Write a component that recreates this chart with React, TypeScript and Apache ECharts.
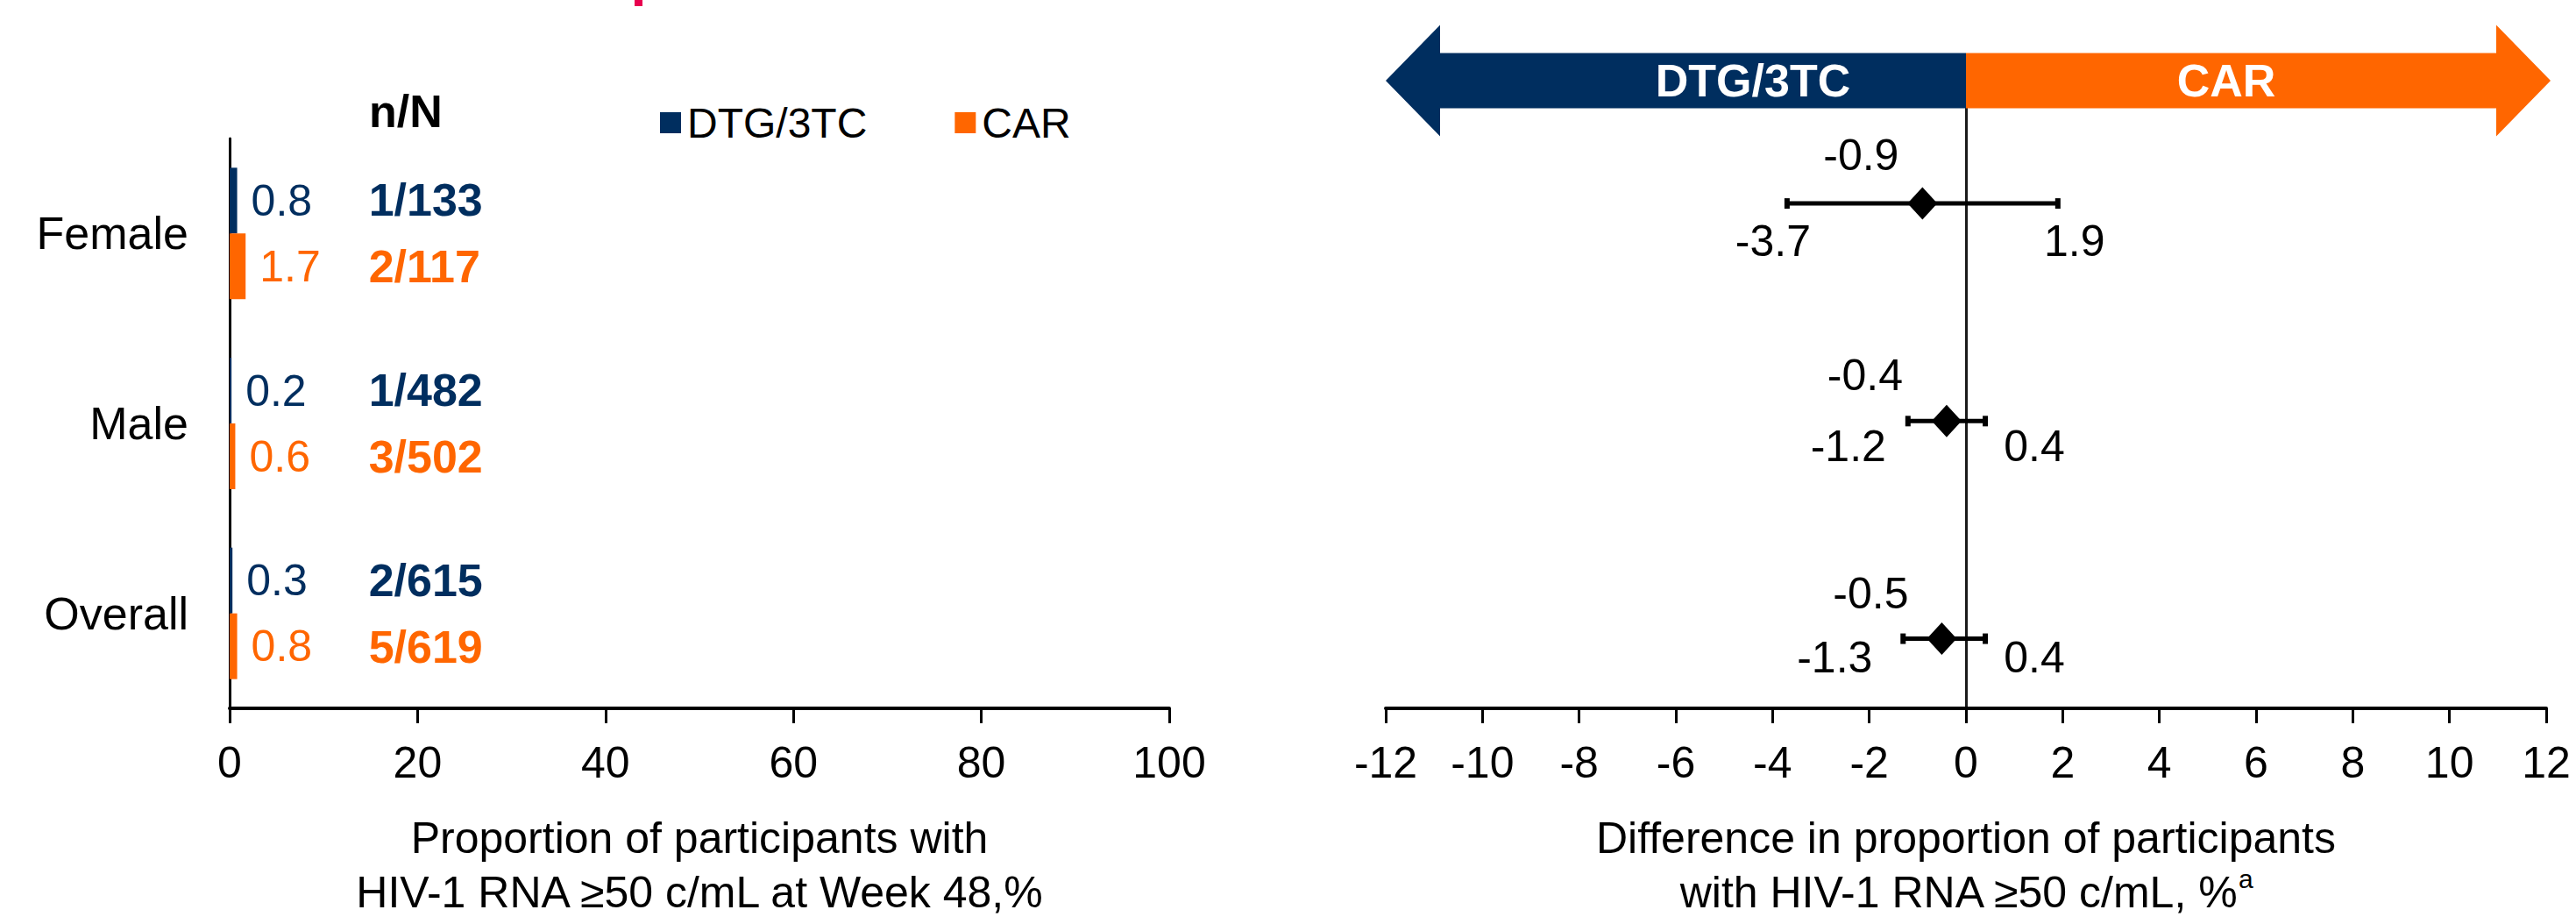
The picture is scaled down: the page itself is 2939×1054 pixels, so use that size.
import React, { useEffect, useRef } from "react";
import * as echarts from "echarts";

// ---------- data ----------
const categories = ["Female", "Male", "Overall"];
const dtgPct = [0.8, 0.2, 0.3];
const carPct = [1.7, 0.6, 0.8];
const dtgNN = ["1/133", "1/482", "2/615"];
const carNN = ["2/117", "3/502", "5/619"];
const diffEst = [-0.9, -0.4, -0.5];
const ciLow = [-3.7, -1.2, -1.3];
const ciHigh = [1.9, 0.4, 0.4];
const seriesNames = ["DTG/3TC", "CAR"];
const leftAxisTitle = "Proportion of participants with\nHIV-1 RNA ≥50 c/mL at Week 48,%";
const rightAxisTitle = "Difference in proportion of participants\nwith HIV-1 RNA ≥50 c/mL, %{sup|a}";

// ---------- layout / style ----------
const NAVY = "#002E5F";
const ORANGE = "#FF6600";
const FONT = "'Liberation Sans', Arial, Helvetica, sans-serif";
const NN_COLUMN_X = 14.8; // value position of the n/N column on the left axis
const estLabelOffsets = [[-70, -55], [-93, -52], [-81, -52]];
const lowLabelOffsets = [[-16, 43], [-68, 29], [-78, 21]];
const highLabelOffsets = [[19, 43], [56, 29], [56, 21]];

export default function App() {
  const ref = useRef<HTMLDivElement>(null);

  useEffect(() => {
    if (!ref.current) return;
    const chart = echarts.init(ref.current, undefined, { renderer: "svg" });

    const axisLabelStyle = { fontSize: 50, color: "#000", fontFamily: FONT };
    const rowIndex = categories.map((_, i) => i);

    const forestLabel = {
      show: true,
      position: "inside",
      color: "#000",
      opacity: 1,
      fontSize: 50,
      fontFamily: FONT,
      formatter: (p: any) => Number(p.value[0]).toFixed(1),
    };

    const option: any = {
      animation: false,
      backgroundColor: "#fff",
      textStyle: { fontFamily: FONT },
      legend: {
        data: seriesNames,
        left: 748,
        top: 111,
        itemWidth: 24,
        itemHeight: 24,
        itemGap: 100,
        icon: "rect",
        selectedMode: false,
        textStyle: { fontSize: 48, color: "#000", fontFamily: FONT, padding: [0, 0, 0, 2] },
      },
      grid: [
        { left: 262, right: 1605, top: 158, bottom: 239 },
        { left: 1581, right: 34, top: 108, bottom: 239 },
      ],
      xAxis: [
        {
          type: "value",
          gridIndex: 0,
          min: 0,
          max: 100,
          interval: 20,
          axisLine: { show: true, lineStyle: { color: "#000", width: 4 } },
          axisTick: { show: true, length: 17, lineStyle: { color: "#000", width: 3 } },
          splitLine: { show: false },
          axisLabel: { ...axisLabelStyle, margin: 37 },
          name: leftAxisTitle,
          nameLocation: "middle",
          nameGap: 117,
          nameTextStyle: { fontSize: 50, lineHeight: 62, color: "#000", fontFamily: FONT },
        },
        {
          type: "value",
          gridIndex: 1,
          min: -12,
          max: 12,
          interval: 2,
          axisLine: { show: true, onZero: false, lineStyle: { color: "#000", width: 4 } },
          axisTick: { show: true, length: 17, lineStyle: { color: "#000", width: 3 } },
          splitLine: { show: false },
          axisLabel: { ...axisLabelStyle, margin: 37 },
          name: rightAxisTitle,
          nameLocation: "middle",
          nameGap: 117,
          nameTextStyle: {
            fontSize: 50,
            lineHeight: 62,
            color: "#000",
            fontFamily: FONT,
            rich: {
              sup: { fontSize: 30, lineHeight: 30, verticalAlign: "top", color: "#000", fontFamily: FONT },
            },
          },
        },
      ],
      yAxis: [
        {
          type: "category",
          gridIndex: 0,
          data: categories,
          inverse: true,
          axisLine: { show: true, lineStyle: { color: "#000", width: 3 } },
          axisTick: { show: false },
          axisLabel: { fontSize: 52, color: "#000", fontFamily: FONT, margin: 47 },
        },
        {
          type: "value",
          gridIndex: 1,
          inverse: true,
          min: -0.5,
          max: 2.32,
          axisLine: { show: true, onZero: true, lineStyle: { color: "#1a1a1a", width: 3 } },
          axisTick: { show: false },
          axisLabel: { show: false },
          splitLine: { show: false },
        },
      ],
      series: [
        {
          name: seriesNames[0],
          type: "bar",
          xAxisIndex: 0,
          yAxisIndex: 0,
          data: dtgPct,
          barWidth: 75,
          barGap: "0%",
          itemStyle: { color: NAVY },
          label: {
            show: true,
            position: "right",
            distance: 16,
            color: NAVY,
            fontSize: 50,
            fontFamily: FONT,
            formatter: (p: any) => Number(p.value).toFixed(1),
          },
        },
        {
          name: seriesNames[1],
          type: "bar",
          xAxisIndex: 0,
          yAxisIndex: 0,
          data: carPct,
          barWidth: 75,
          barGap: "0%",
          itemStyle: { color: ORANGE },
          label: {
            show: true,
            position: "right",
            distance: 16,
            color: ORANGE,
            fontSize: 50,
            fontFamily: FONT,
            formatter: (p: any) => Number(p.value).toFixed(1),
          },
        },
        {
          type: "scatter",
          xAxisIndex: 0,
          yAxisIndex: 0,
          symbolSize: 0,
          silent: true,
          itemStyle: { opacity: 1 },
          data: categories.map((c) => [NN_COLUMN_X, c]),
          label: {
            show: true,
            position: "right",
            distance: 0,
            offset: [0, -38],
            color: NAVY,
            opacity: 1,
            fontSize: 52,
            fontWeight: "bold",
            fontFamily: FONT,
            formatter: (p: any) => dtgNN[p.dataIndex],
          },
        },
        {
          type: "scatter",
          xAxisIndex: 0,
          yAxisIndex: 0,
          symbolSize: 0,
          silent: true,
          itemStyle: { opacity: 1 },
          data: categories.map((c) => [NN_COLUMN_X, c]),
          label: {
            show: true,
            position: "right",
            distance: 0,
            offset: [0, 38],
            color: ORANGE,
            opacity: 1,
            fontSize: 52,
            fontWeight: "bold",
            fontFamily: FONT,
            formatter: (p: any) => carNN[p.dataIndex],
          },
        },
        {
          type: "custom",
          xAxisIndex: 1,
          yAxisIndex: 1,
          silent: true,
          data: rowIndex.map((r) => [ciLow[r], ciHigh[r], r]),
          encode: { x: [0, 1], y: 2 },
          renderItem: (params: any, api: any) => {
            const lo = api.coord([api.value(0), api.value(2)]);
            const hi = api.coord([api.value(1), api.value(2)]);
            return {
              type: "group",
              children: [
                {
                  type: "line",
                  shape: { x1: lo[0], y1: lo[1], x2: hi[0], y2: hi[1] },
                  style: { stroke: "#000", lineWidth: 5 },
                },
                {
                  type: "rect",
                  shape: { x: lo[0] - 3, y: lo[1] - 6, width: 6, height: 12 },
                  style: { fill: "#000" },
                },
                {
                  type: "rect",
                  shape: { x: hi[0] - 3, y: hi[1] - 6, width: 6, height: 12 },
                  style: { fill: "#000" },
                },
              ],
            };
          },
          z: 3,
        },
        {
          type: "scatter",
          xAxisIndex: 1,
          yAxisIndex: 1,
          symbol: "diamond",
          symbolSize: [34, 37],
          itemStyle: { color: "#000", opacity: 1 },
          z: 5,
          data: rowIndex.map((r) => ({
            value: [diffEst[r], r],
            label: { offset: estLabelOffsets[r] },
          })),
          label: forestLabel,
        },
        {
          type: "scatter",
          xAxisIndex: 1,
          yAxisIndex: 1,
          symbolSize: 0,
          silent: true,
          itemStyle: { opacity: 1 },
          data: rowIndex.map((r) => ({
            value: [ciLow[r], r],
            label: { offset: lowLabelOffsets[r] },
          })),
          label: forestLabel,
        },
        {
          type: "scatter",
          xAxisIndex: 1,
          yAxisIndex: 1,
          symbolSize: 0,
          silent: true,
          itemStyle: { opacity: 1 },
          data: rowIndex.map((r) => ({
            value: [ciHigh[r], r],
            label: { offset: highLabelOffsets[r] },
          })),
          label: forestLabel,
        },
      ],
    };

    chart.setOption(option);

    // Direction arrows above the forest plot, anchored to the right axis
    const xMin = chart.convertToPixel({ xAxisIndex: 1 }, -12) as number;
    const xZero = chart.convertToPixel({ xAxisIndex: 1 }, 0) as number;
    const xMax = chart.convertToPixel({ xAxisIndex: 1 }, 12) as number;
    const yMid = 92;
    const shaftHalf = 31.5;
    const headHalf = 63.5;
    const headLen = 62;
    const xMaxTip = xMax + 5;

    chart.setOption({
      graphic: [
        {
          type: "polygon",
          z: 100,
          shape: {
            points: [
              [xMin, yMid],
              [xMin + headLen, yMid - headHalf],
              [xMin + headLen, yMid - shaftHalf],
              [xZero, yMid - shaftHalf],
              [xZero, yMid + shaftHalf],
              [xMin + headLen, yMid + shaftHalf],
              [xMin + headLen, yMid + headHalf],
            ],
          },
          style: { fill: NAVY },
        },
        {
          type: "polygon",
          z: 100,
          shape: {
            points: [
              [xZero, yMid - shaftHalf],
              [xMaxTip - headLen, yMid - shaftHalf],
              [xMaxTip - headLen, yMid - headHalf],
              [xMaxTip, yMid],
              [xMaxTip - headLen, yMid + headHalf],
              [xMaxTip - headLen, yMid + shaftHalf],
              [xZero, yMid + shaftHalf],
            ],
          },
          style: { fill: ORANGE },
        },
        {
          type: "text",
          z: 101,
          x: 2000,
          y: yMid,
          style: {
            text: "DTG/3TC",
            fill: "#fff",
            fontSize: 52,
            fontWeight: "bold",
            fontFamily: FONT,
            align: "center",
            verticalAlign: "middle",
          },
        },
        {
          type: "text",
          z: 101,
          x: 2540,
          y: yMid,
          style: {
            text: "CAR",
            fill: "#fff",
            fontSize: 52,
            fontWeight: "bold",
            fontFamily: FONT,
            align: "center",
            verticalAlign: "middle",
          },
        },
        {
          type: "text",
          x: 421,
          y: 127,
          style: {
            text: "n/N",
            fill: "#000",
            fontSize: 52,
            fontWeight: "bold",
            fontFamily: FONT,
            align: "left",
            verticalAlign: "middle",
          },
        },
        {
          type: "rect",
          shape: { x: 724, y: 0, width: 9, height: 7 },
          style: { fill: "#E8004F" },
        },
      ],
    });

    return () => chart.dispose();
  }, []);

  return (
    <div
      ref={ref}
      style={{ position: "fixed", left: 0, top: 0, width: 2939, height: 1054, background: "#fff" }}
    />
  );
}
